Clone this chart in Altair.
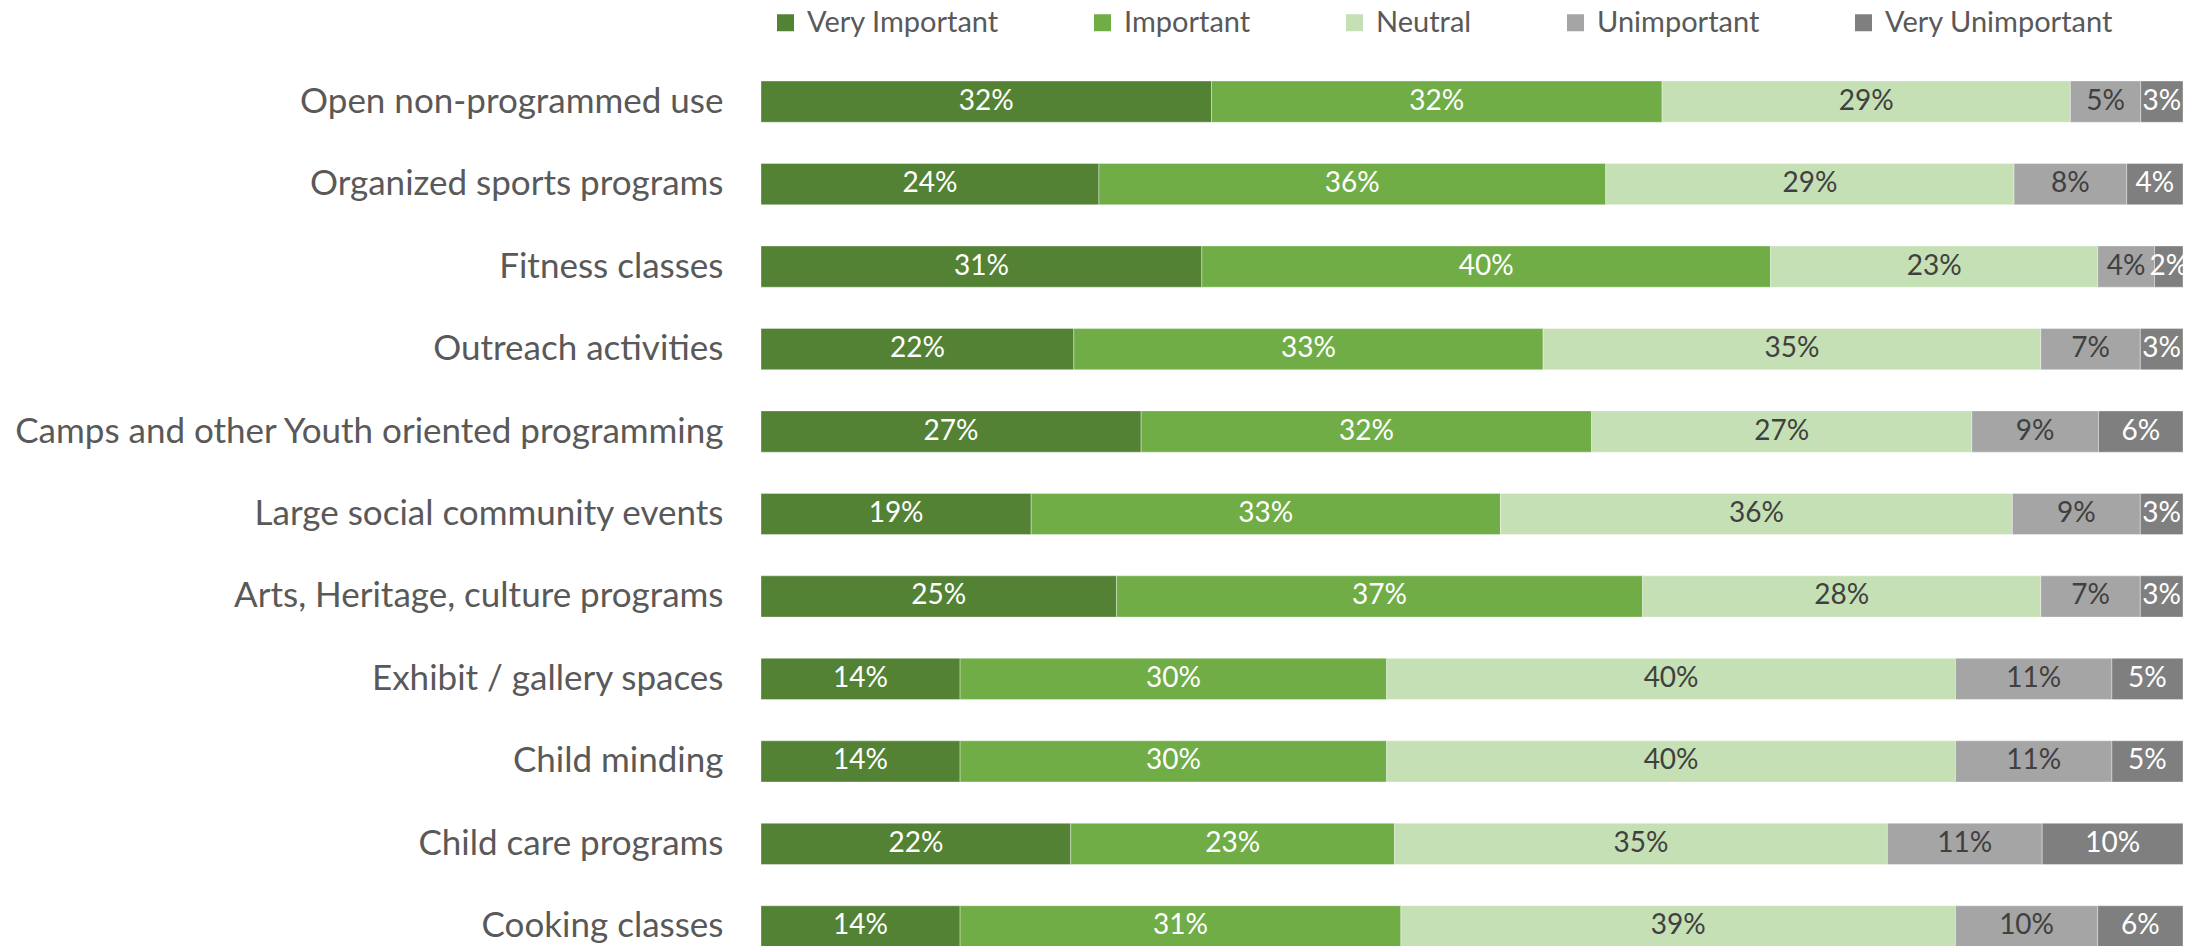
import altair as alt
import pandas as pd

categories = [
    "Open non-programmed use",
    "Organized sports programs",
    "Fitness classes",
    "Outreach activities",
    "Camps and other Youth oriented programming",
    "Large social community events",
    "Arts, Heritage, culture programs",
    "Exhibit / gallery spaces",
    "Child minding",
    "Child care programs",
    "Cooking classes",
]
responses = ["Very Important", "Important", "Neutral", "Unimportant", "Very Unimportant"]
very_important = [32, 24, 31, 22, 27, 19, 25, 14, 14, 22, 14]
important = [32, 36, 40, 33, 32, 33, 37, 30, 30, 23, 31]
neutral = [29, 29, 23, 35, 27, 36, 28, 40, 40, 35, 39]
unimportant = [5, 8, 4, 7, 9, 9, 7, 11, 11, 11, 10]
very_unimportant = [3, 4, 2, 3, 6, 3, 3, 5, 5, 10, 6]

colors = ["#548235", "#70AD47", "#C5E0B4", "#A5A5A5", "#7F7F7F"]
text_colors = ["#FFFFFF", "#FFFFFF", "#404040", "#404040", "#FFFFFF"]

series = [very_important, important, neutral, unimportant, very_unimportant]
rows = []
for ci, cat in enumerate(categories):
    for ri, resp in enumerate(responses):
        rows.append({"cat": cat, "resp": resp, "value": series[ri][ci],
                     "order": ri, "tc": text_colors[ri]})
df = pd.DataFrame(rows)

xscale = alt.Scale(domain=[0, 1], nice=False, zero=True)
yenc = alt.Y(
    "cat:N", sort=categories,
    scale=alt.Scale(paddingInner=0.5, paddingOuter=0),
    axis=alt.Axis(title=None, ticks=False, domain=False, labelFontSize=35,
                  labelFont="Lato", labelColor="#595959", labelPadding=38,
                  labelLimit=0),
)

base = alt.Chart(df).transform_stack(
    stack="value", groupby=["cat"], as_=["x0", "x1"], offset="normalize",
    sort=[alt.SortField(field="order", order="ascending")],
).transform_calculate(
    mid="(datum.x0 + datum.x1) / 2",
    lab="datum.value + '%'",
)

bars = base.mark_bar(stroke="white", strokeWidth=0.6, strokeOpacity=0.6).encode(
    y=yenc,
    x=alt.X("x0:Q", scale=xscale, axis=None),
    x2="x1:Q",
    color=alt.Color(
        "resp:N",
        scale=alt.Scale(domain=responses, range=colors),
        legend=alt.Legend(
            title=None, orient="none", legendX=10, legendY=-73,
            direction="horizontal", symbolType="square", symbolSize=289,
            labelFontSize=29, labelFont="Lato", labelColor="#595959",
            columnPadding=89, labelOffset=7, symbolStrokeWidth=0,
            symbolOpacity=1, labelLimit=0, padding=0,
        ),
    ),
)

texts = base.mark_text(fontSize=28, font="Lato", baseline="middle").encode(
    y=alt.Y("cat:N", sort=categories),
    x=alt.X("mid:Q", scale=xscale),
    text="lab:N",
    color=alt.Color("tc:N", scale=None),
)

chart = (bars + texts).properties(
    width=1422, height=866,
    padding={"left": 753, "top": 73, "right": 10, "bottom": 0},
    autosize=alt.AutoSizeParams(type="none"),
).configure_view(stroke=None)

chart.save("out.html", embed_options={"renderer": "svg", "actions": False})
